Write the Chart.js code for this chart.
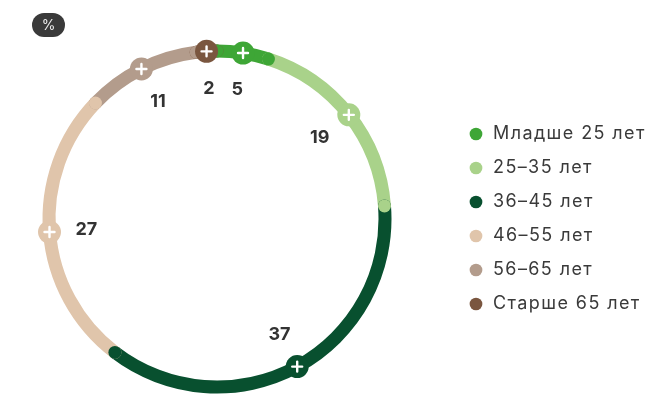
<!DOCTYPE html>
<html lang="ru">
<head>
<meta charset="utf-8">
<script src="https://cdn.jsdelivr.net/npm/chart.js@4/dist/chart.umd.min.js"></script>
<style>
  html, body { margin: 0; padding: 0; background: #ffffff; }
  #wrap { position: relative; width: 646px; height: 395px; overflow: hidden; }
  #chart { position: absolute; left: -18px; top: 0; }
  #unit {
    position: absolute; left: 32px; top: 13px; width: 33px; height: 24px;
    border-radius: 12px; background: #3a3a3a; color: #eeeeee;
    font: 400 14px Inter, "Noto Sans", sans-serif; line-height: 24px; text-align: center;
  }
</style>
</head>
<body>
<div id="wrap">
  <canvas id="chart" width="664" height="395"></canvas>
  <div id="unit">%</div>
</div>
<script>
// ---- data ----
const categories = ['Младше 25 лет', '25–35 лет', '36–45 лет', '46–55 лет', '56–65 лет', 'Старше 65 лет'];
const shares = [5, 19, 37, 27, 11, 2];
const valueLabels = ['5', '19', '37', '27', '11', '2'];

// ---- style ----
const palette = ['#3ea636', '#a9d28a', '#08502f', '#e0c5ab', '#b39c8c', '#7a563f'];

const textSpacing = {
  id: 'textSpacing',
  beforeLayout(chart) { chart.ctx.letterSpacing = '1.4px'; }
};

const ringDecor = {
  id: 'ringDecor',
  afterDatasetsDraw(chart) {
    const meta = chart.getDatasetMeta(0);
    const ctx = chart.ctx;
    const arcs = meta.data.map(a => a.getProps(['x', 'y', 'startAngle', 'endAngle', 'innerRadius', 'outerRadius'], true));
    ctx.save();
    ctx.letterSpacing = '0px';
    // round caps, drawn last-to-first so each segment's end overlaps the next one
    for (let i = arcs.length - 1; i >= 0; i--) {
      const a = arcs[i];
      const rm = (a.innerRadius + a.outerRadius) / 2;
      const hw = (a.outerRadius - a.innerRadius) / 2;
      ctx.fillStyle = palette[i];
      [a.startAngle, a.endAngle].forEach(ang => {
        ctx.beginPath();
        ctx.arc(a.x + rm * Math.cos(ang), a.y + rm * Math.sin(ang), hw, 0, Math.PI * 2);
        ctx.fill();
      });
    }
    // markers with "+" and value labels
    arcs.forEach((a, i) => {
      const rm = (a.innerRadius + a.outerRadius) / 2;
      const mid = (a.startAngle + a.endAngle) / 2;
      const mx = a.x + rm * Math.cos(mid);
      const my = a.y + rm * Math.sin(mid);
      ctx.fillStyle = palette[i];
      ctx.beginPath();
      ctx.arc(mx, my, 11.5, 0, Math.PI * 2);
      ctx.fill();
      ctx.strokeStyle = '#ffffff';
      ctx.lineWidth = 2.4;
      ctx.lineCap = 'round';
      ctx.beginPath();
      ctx.moveTo(mx - 5, my); ctx.lineTo(mx + 5, my);
      ctx.moveTo(mx, my - 5); ctx.lineTo(mx, my + 5);
      ctx.stroke();
      const rl = rm - 37;
      ctx.fillStyle = '#333333';
      ctx.font = '700 18px Inter, "Noto Sans", sans-serif';
      ctx.textAlign = 'center';
      ctx.textBaseline = 'middle';
      ctx.fillText(valueLabels[i], a.x + rl * Math.cos(mid), a.y + rl * Math.sin(mid));
    });
    ctx.restore();
  }
};

new Chart(document.getElementById('chart'), {
  type: 'doughnut',
  data: {
    labels: categories,
    datasets: [{
      data: shares,
      backgroundColor: palette,
      borderWidth: 0,
      hoverOffset: 0
    }]
  },
  options: {
    responsive: false,
    animation: false,
    devicePixelRatio: 1,
    cutout: '92.55%',
    layout: { padding: { top: 44.5, bottom: 1.5, left: 0, right: 0 } },
    plugins: {
      tooltip: { enabled: false },
      legend: {
        position: 'right',
        maxWidth: 194,
        labels: {
          usePointStyle: true,
          pointStyle: 'circle',
          boxWidth: 16,
          boxHeight: 9,
          padding: 16,
          color: '#3a3a3a',
          font: { family: 'Inter, "Noto Sans", sans-serif', size: 18, weight: '400' }
        }
      }
    }
  },
  plugins: [textSpacing, ringDecor]
});
</script>
</body>
</html>
